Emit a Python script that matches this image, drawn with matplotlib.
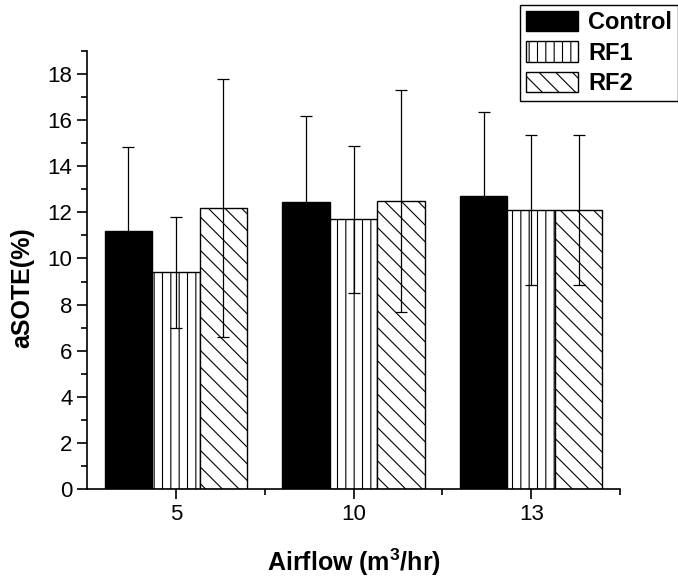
import matplotlib
matplotlib.use("Agg")
import matplotlib.pyplot as plt
import numpy as np

plt.rcParams["font.family"] = ["Liberation Sans", "DejaVu Sans"]
plt.rcParams["hatch.linewidth"] = 0.8

airflow = ["5", "10", "13"]
control = [11.2, 12.45, 12.7]
control_err = [3.65, 3.75, 3.65]
rf1 = [9.4, 11.7, 12.1]
rf1_err = [2.4, 3.2, 3.25]
rf2 = [12.2, 12.5, 12.1]
rf2_err = [5.6, 4.8, 3.25]

x = np.arange(len(airflow))
w = 0.267

fig = plt.figure(figsize=(6.78, 5.81), dpi=100)
ax = fig.add_axes([0.1283, 0.1583, 0.7862, 0.7539])

ekw = dict(ecolor="black", elinewidth=0.9, capsize=4, capthick=0.9)
ax.bar(x - w, control, w, yerr=control_err, color="black", edgecolor="black",
       linewidth=1.0, label="Control", error_kw=ekw)
ax.bar(x, rf1, w, yerr=rf1_err, color="white", edgecolor="black", hatch="||",
       linewidth=1.0, label="RF1", error_kw=ekw)
ax.bar(x + w, rf2, w, yerr=rf2_err, color="white", edgecolor="black", hatch="\\\\",
       linewidth=1.0, label="RF2", error_kw=ekw)

ax.set_xlim(-0.5, 2.5)
ax.set_ylim(0, 19)
ax.set_xticks(x)
ax.set_xticklabels(airflow)
ax.set_xticks([0.5, 1.5, 2.5], minor=True)
ax.set_yticks(np.arange(0, 19, 2))
ax.set_yticks(np.arange(1, 20, 2), minor=True)

for s in ["top", "right"]:
    ax.spines[s].set_visible(False)
for s in ["left", "bottom"]:
    ax.spines[s].set_linewidth(1.2)
ax.tick_params(which="major", direction="out", length=7, width=1.2, labelsize=16)
ax.tick_params(which="minor", direction="out", length=4, width=1.2)

ax.set_xlabel("Airflow (m$^{\\mathregular{3}}$/hr)", fontsize=18, fontweight="bold", labelpad=16)
ax.set_ylabel("aSOTE(%)", fontsize=18, fontweight="bold")
ax.yaxis.set_label_coords(-0.099, 0.46)

leg = fig.legend(loc="upper left", bbox_to_anchor=(520 / 678, 1 - 5 / 581),
                 frameon=True, fancybox=False, edgecolor="black", framealpha=1,
                 borderaxespad=0, borderpad=0.25, handlelength=2.2, handleheight=0.95,
                 handletextpad=0.45, labelspacing=0.3,
                 prop={"weight": "bold", "size": 17})
leg.get_frame().set_linewidth(1.0)

fig.savefig("out.png", dpi=100)
